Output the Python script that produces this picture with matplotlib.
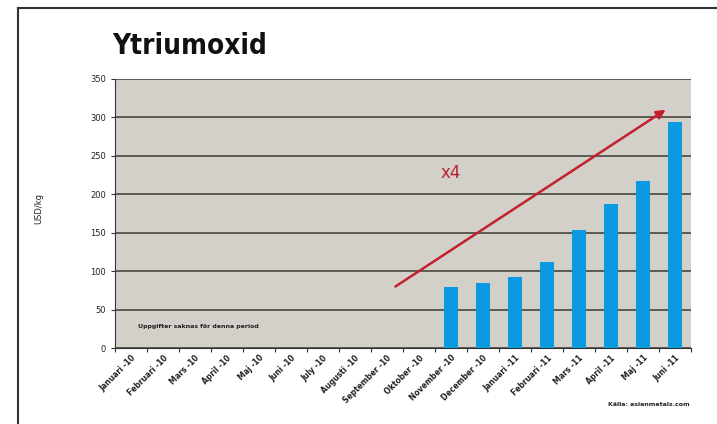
import matplotlib.pyplot as plt
from matplotlib.lines import Line2D

months = ["Januari -10", "Februari -10", "Mars -10", "April -10", "Maj -10",
          "Juni -10", "July -10", "Augusti -10", "September -10", "Oktober -10",
          "November -10", "December -10", "Januari -11", "Februari -11",
          "Mars -11", "April -11", "Maj -11", "Juni -11"]
bar_months = months[10:]
prices = [80, 84, 92, 112, 153, 188, 217, 294]

fig = plt.figure(figsize=(7.17, 4.24), dpi=100)
ax = fig.add_axes([115 / 717, 1 - 348 / 424, 576 / 717, 269 / 424])

pos = [months.index(m) for m in bar_months]
ax.bar(pos, prices, width=0.42, color="#0a9ae0", zorder=3)

ax.set_xlim(-0.5, len(months) - 0.5)
ax.set_ylim(0, 350)
ax.set_yticks(range(0, 351, 50))
ax.set_facecolor("#d3cfc9")
ax.grid(axis="y", color="#4a4640", linewidth=1.2, zorder=1)
ax.set_axisbelow(True)

ax.set_xticks([i - 0.5 for i in range(len(months) + 1)], minor=False)
ax.set_xticklabels([])
ax.set_xticks(range(len(months)), minor=True)
ax.set_xticklabels(months, minor=True, rotation=45, ha="right",
                   rotation_mode="anchor", fontsize=5.5, fontweight="bold",
                   color="#222222")
ax.tick_params(axis="x", which="minor", length=0, pad=4)
ax.tick_params(axis="x", which="major", length=3, color="#333333")
ax.tick_params(axis="y", labelsize=6, length=3, color="#333333",
               labelcolor="#222222")
for s in ["top", "right"]:
    ax.spines[s].set_visible(False)
ax.spines["left"].set_color("#333333")
ax.spines["bottom"].set_color("#333333")

ax.set_ylabel("USD/kg", fontsize=6, color="#222222", labelpad=0)
ax.yaxis.set_label_coords(-0.125, 0.52)

ax.annotate("", xy=(16.78, 312), xytext=(8.19, 78),
            arrowprops=dict(arrowstyle="-|>", color="#c4202e", lw=1.8,
                            mutation_scale=13), zorder=4)
ax.text(10.0, 228, "x4", color="#b8232f", fontsize=12, ha="center",
        va="center")
ax.text(0.22, 28, "Uppgifter saknas för denna period", fontsize=4.5,
        fontweight="bold", va="center", ha="left", color="#222222")

fig.text(112 / 717, 1 - 46 / 424, "Ytriumoxid", fontsize=20,
         fontweight="bold", fontstretch="condensed", va="center", ha="left",
         color="#111111")
fig.text(690 / 717, 1 - 404 / 424, "Källa: asianmetals.com", fontsize=4.5,
         fontweight="bold", va="center", ha="right", color="#222222")

# outer frame
fig.add_artist(Line2D([18 / 717, 1], [1 - 8 / 424, 1 - 8 / 424],
                      transform=fig.transFigure, color="#333333", lw=1.5))
fig.add_artist(Line2D([18 / 717, 18 / 717], [1 - 8 / 424, 0],
                      transform=fig.transFigure, color="#333333", lw=1.5))

fig.savefig("out.png", dpi=100)
